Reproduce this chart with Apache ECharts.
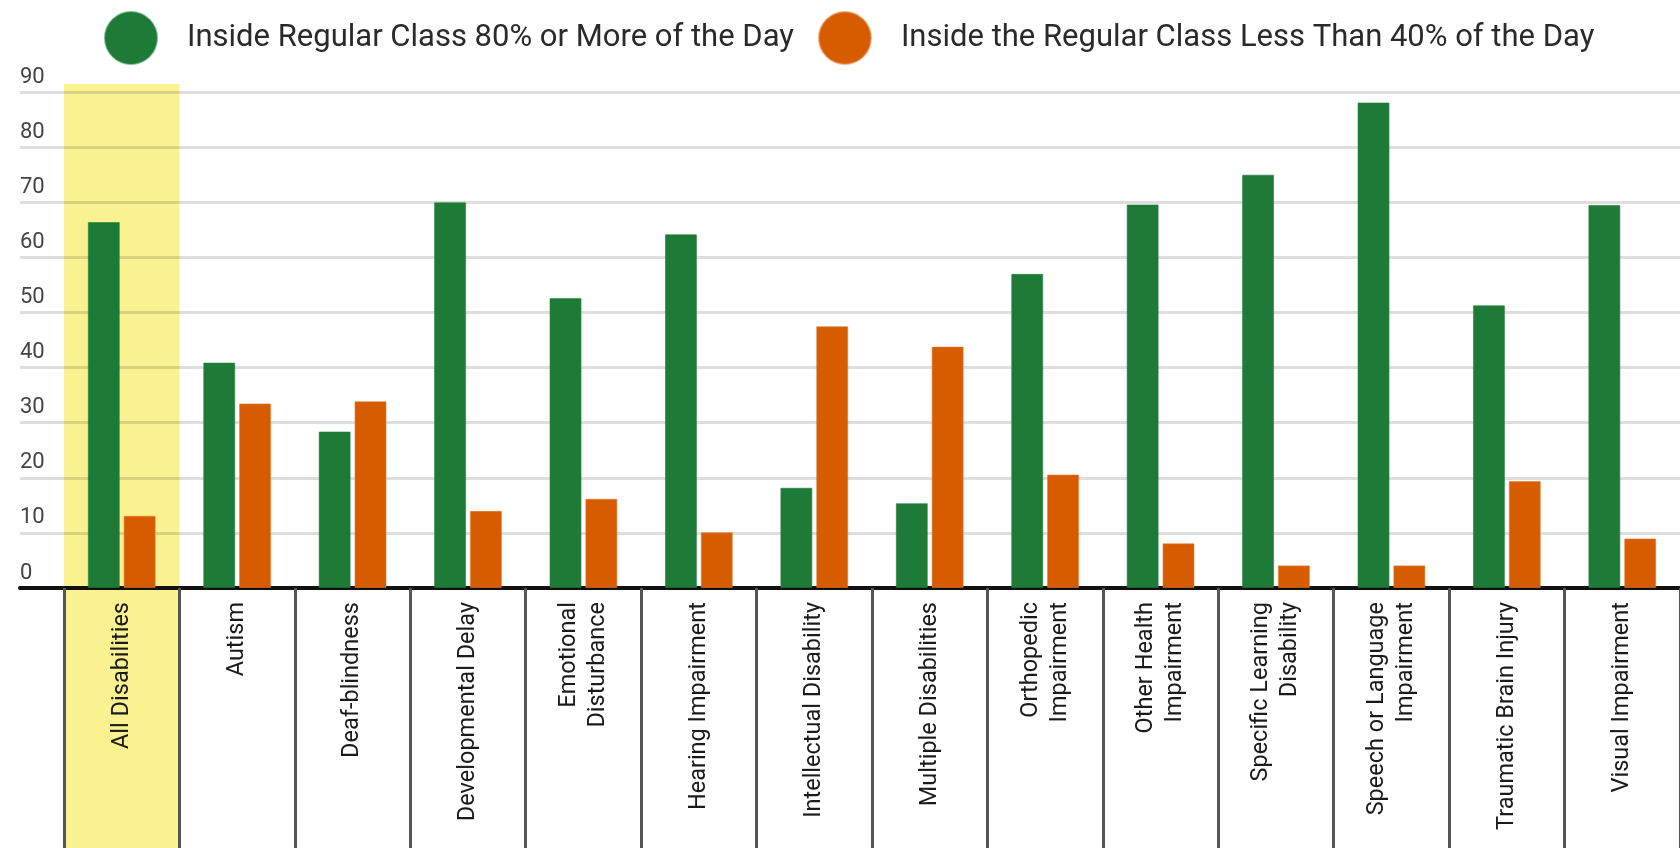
<!DOCTYPE html>
<html>
<head>
<meta charset="utf-8">
<title>Time inside the regular class by disability</title>
<script src="https://cdn.jsdelivr.net/npm/echarts@6/dist/echarts.min.js"></script>
<style>
  html, body { margin: 0; padding: 0; background: #fff; }
  #chart { width: 1680px; height: 848px; }
</style>
</head>
<body>
<div id="chart"></div>
<script>
// categories (two-line labels keep their line break)
var categories = ['All Disabilities', 'Autism', 'Deaf-blindness', 'Developmental Delay',
    'Emotional\nDisturbance', 'Hearing Impairment', 'Intellectual Disability',
    'Multiple Disabilities', 'Orthopedic\nImpairment', 'Other Health\nImpairment',
    'Specific Learning\nDisability', 'Speech or Language\nImpairment',
    'Traumatic Brain Injury', 'Visual Impairment'];

var seriesNames = ['Inside Regular Class 80% or More of the Day',
    'Inside the Regular Class Less Than 40% of the Day'];

// percent of students
var inside80 = [66.4, 40.9, 28.4, 70.0, 52.6, 64.2, 18.2, 15.4, 57.0, 69.6, 75.0, 88.1, 51.3, 69.5];
var under40 = [13.1, 33.5, 33.9, 14.0, 16.2, 10.1, 47.5, 43.8, 20.6, 8.1, 4.1, 4.1, 19.4, 9.0];

var yTicks = [0, 10, 20, 30, 40, 50, 60, 70, 80, 90];

var green = '#1e7b37';
var orange = '#d75c00';
var font = 'Roboto';

var chart = echarts.init(document.getElementById('chart'));

var option = {
    animation: false,
    backgroundColor: '#fff',
    textStyle: { fontFamily: font },
    legend: {
        data: seriesNames,
        left: 99,
        top: 6,
        icon: 'circle',
        itemWidth: 102,
        itemHeight: 52,
        itemGap: 24,
        textStyle: { fontSize: 31, color: '#2a2a2a', fontFamily: font }
    },
    grid: [
        // grid 0 only carries the value lines, labels and the base line
        { left: 20, right: 0, top: 92, bottom: 260 },
        // grid 1 carries the bars and the category cells
        { left: 64, width: 1619, top: 92, bottom: 260 }
    ],
    xAxis: [
        {
            gridIndex: 0, type: 'value', min: 0, max: 1,
            axisLine: { show: true, lineStyle: { color: '#111', width: 4 } },
            axisTick: { show: false }, axisLabel: { show: false }, splitLine: { show: false }
        },
        {
            gridIndex: 1, type: 'category', data: categories,
            axisLine: { show: false },
            axisTick: { show: true, interval: 0, length: 260, lineStyle: { color: '#555', width: 3 } },
            axisLabel: {
                interval: 0, rotate: 90, margin: 14,
                fontSize: 23.5, lineHeight: 29, color: '#1a1a1a', fontFamily: font
            },
            splitLine: { show: false }
        }
    ],
    yAxis: [
        {
            gridIndex: 0, type: 'value', min: 0, max: yTicks[yTicks.length - 1], interval: 10,
            axisLine: { show: false }, axisTick: { show: false },
            axisLabel: {
                inside: true, margin: 0, align: 'left', verticalAlign: 'bottom',
                padding: [0, 0, 4, 0], fontSize: 22, lineHeight: 22, color: '#444', fontFamily: font
            },
            splitLine: { show: true, lineStyle: { color: 'rgba(0,0,0,0.13)', width: 3 } }
        },
        {
            gridIndex: 1, type: 'value', min: 0, max: yTicks[yTicks.length - 1], interval: 10,
            show: false, splitLine: { show: false }
        }
    ],
    series: [
        {
            name: seriesNames[0], type: 'bar', xAxisIndex: 1, yAxisIndex: 1,
            data: inside80, barWidth: 32, barGap: '12%',
            itemStyle: { color: green, borderColor: 'rgba(30,123,55,0.55)', borderWidth: 1 }
        },
        {
            name: seriesNames[1], type: 'bar', xAxisIndex: 1, yAxisIndex: 1,
            data: under40, barWidth: 32, barGap: '12%',
            itemStyle: { color: orange, borderColor: 'rgba(230,120,40,0.55)', borderWidth: 1 }
        }
    ]
};
chart.setOption(option);

// yellow highlight over the first category, placed from the axis scale
var c0 = chart.convertToPixel({ xAxisIndex: 1 }, 0);
var c1 = chart.convertToPixel({ xAxisIndex: 1 }, 1);
var band = c1 - c0;
var topY = chart.convertToPixel({ yAxisIndex: 0 }, 90) - 8;
chart.setOption({
    graphic: {
        z: -10,
        elements: [{
            type: 'rect', z: -10, silent: true,
            shape: { x: c0 - band / 2, y: topY, width: band, height: 848 - topY },
            style: { fill: '#faf191' }
        }]
    }
});
</script>
</body>
</html>
